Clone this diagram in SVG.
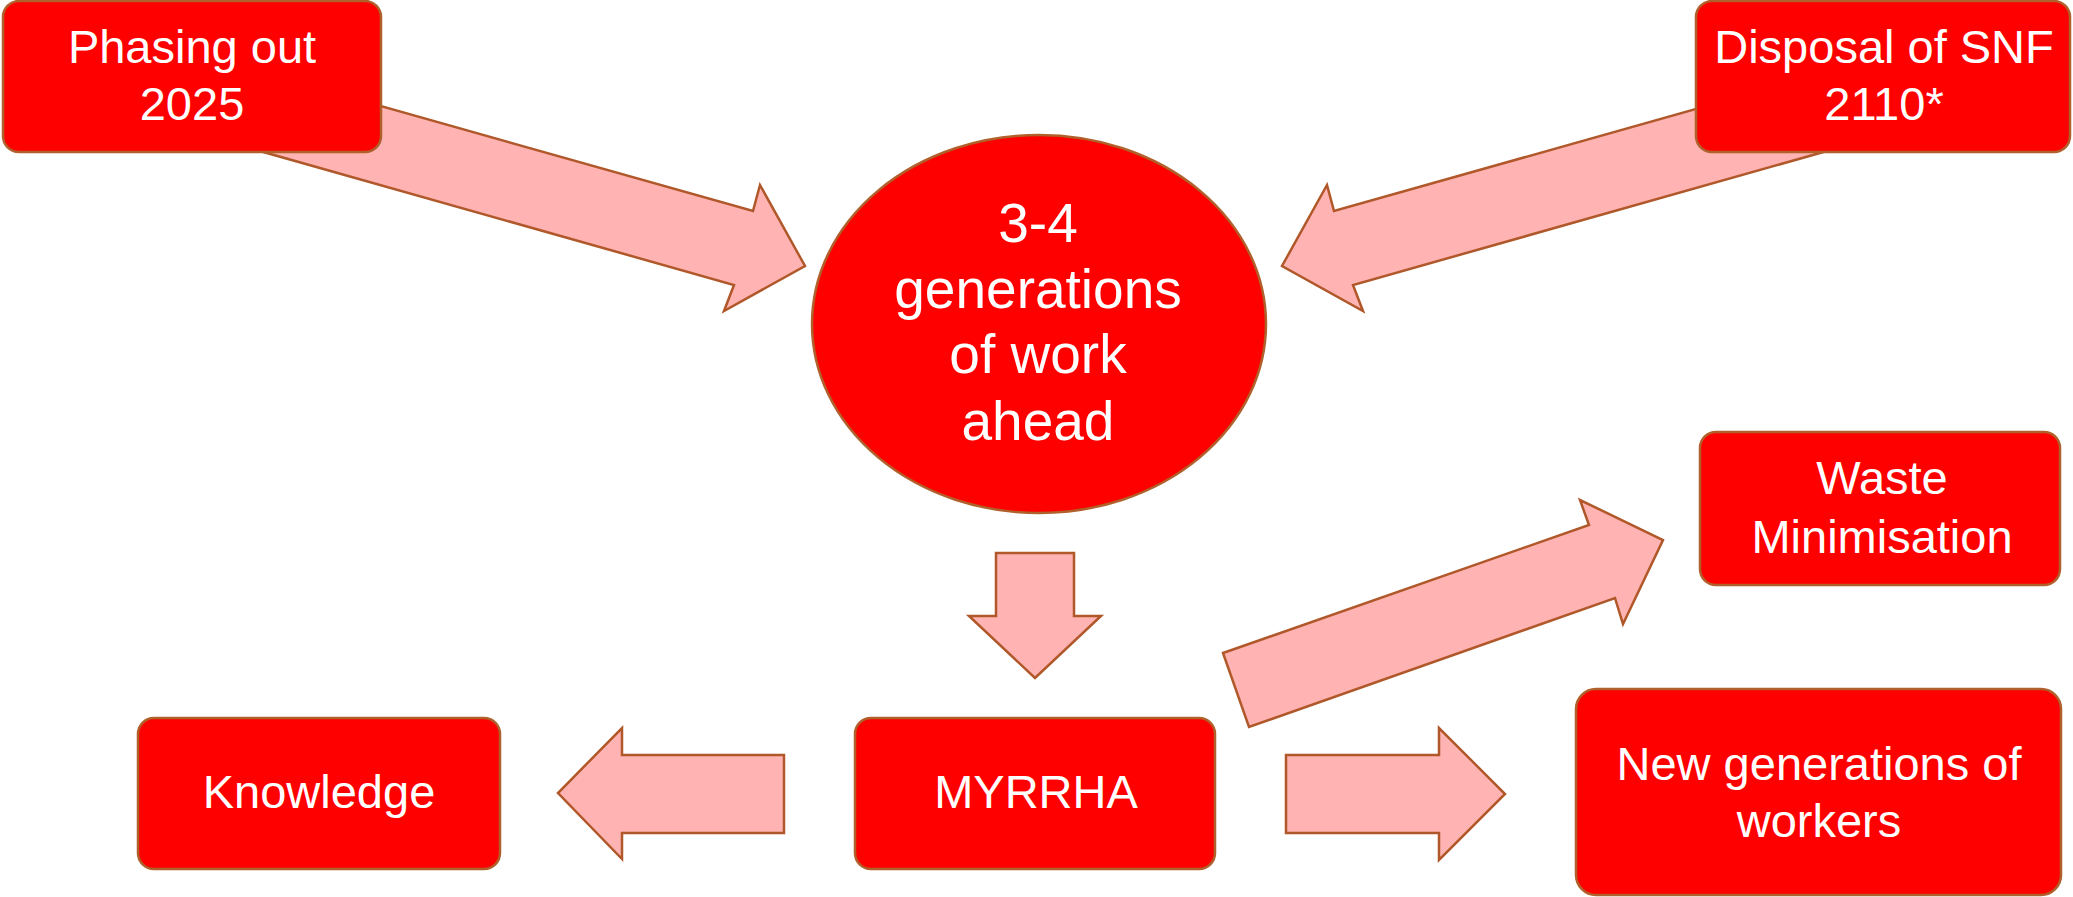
<svg xmlns="http://www.w3.org/2000/svg" width="2073" height="897" viewBox="0 0 2073 897">
<style>
.bg{fill:#ffffff}
.box{fill:#ff0000;stroke:#b0602a;stroke-width:2.5}
.arr{fill:#ffb3b3;stroke:#b0582a;stroke-width:2.5;stroke-linejoin:miter}
.t{font-family:"Liberation Sans",Arial,sans-serif;font-size:47px;fill:#ffffff;text-anchor:middle}
.tl{font-family:"Liberation Sans",Arial,sans-serif;font-size:55px;fill:#ffffff;text-anchor:middle}
</style>
<rect class="bg" x="0" y="0" width="2073" height="897"/>
<g id="connectors">
  <polygon class="arr" points="150,41 753,211 760,185 805,266 724,311 734,285 129,114"/>
  <polygon class="arr" points="1937,41 1334,211 1327,185 1282,266 1363,311 1353,285 1958,114"/>
  <polygon class="arr" points="996,553 1074,553 1074,616 1101,616 1035,678 969,616 996,616"/>
  <polygon class="arr" points="784,755 622,755 622,728 558,793 622,859 622,833 784,833"/>
  <polygon class="arr" points="1286,755 1439,755 1439,728 1505,794 1439,860 1439,833 1286,833"/>
  <polygon class="arr" points="1223,653 1589,525 1580,500 1663,540 1623,624 1615,598 1249,727"/>
</g>
<g id="node-phasing">
  <rect class="box" x="3" y="1" width="378" height="151" rx="16"/>
  <text class="t" x="192" y="63">Phasing out</text>
  <text class="t" x="192" y="120">2025</text>
</g>
<g id="node-disposal">
  <rect class="box" x="1696" y="1" width="374" height="151" rx="16"/>
  <text class="t" x="1884" y="63">Disposal of SNF</text>
  <text class="t" x="1884" y="120">2110*</text>
</g>
<g id="node-generations">
  <ellipse class="box" cx="1039" cy="324" rx="227" ry="189"/>
  <text class="tl" x="1038" y="242">3-4</text>
  <text class="tl" x="1038" y="308">generations</text>
  <text class="tl" x="1038" y="373">of work</text>
  <text class="tl" x="1038" y="440">ahead</text>
</g>
<g id="node-waste">
  <rect class="box" x="1700" y="432" width="360" height="153" rx="16"/>
  <text class="t" x="1882" y="494">Waste</text>
  <text class="t" x="1882" y="553">Minimisation</text>
</g>
<g id="node-myrrha">
  <rect class="box" x="855" y="718" width="360" height="151" rx="16"/>
  <text class="t" x="1036" y="808">MYRRHA</text>
</g>
<g id="node-knowledge">
  <rect class="box" x="138" y="718" width="362" height="151" rx="16"/>
  <text class="t" x="319" y="808">Knowledge</text>
</g>
<g id="node-newgen">
  <rect class="box" x="1576" y="689" width="485" height="206" rx="20"/>
  <text class="t" x="1819" y="780">New generations of</text>
  <text class="t" x="1819" y="837">workers</text>
</g>
</svg>
